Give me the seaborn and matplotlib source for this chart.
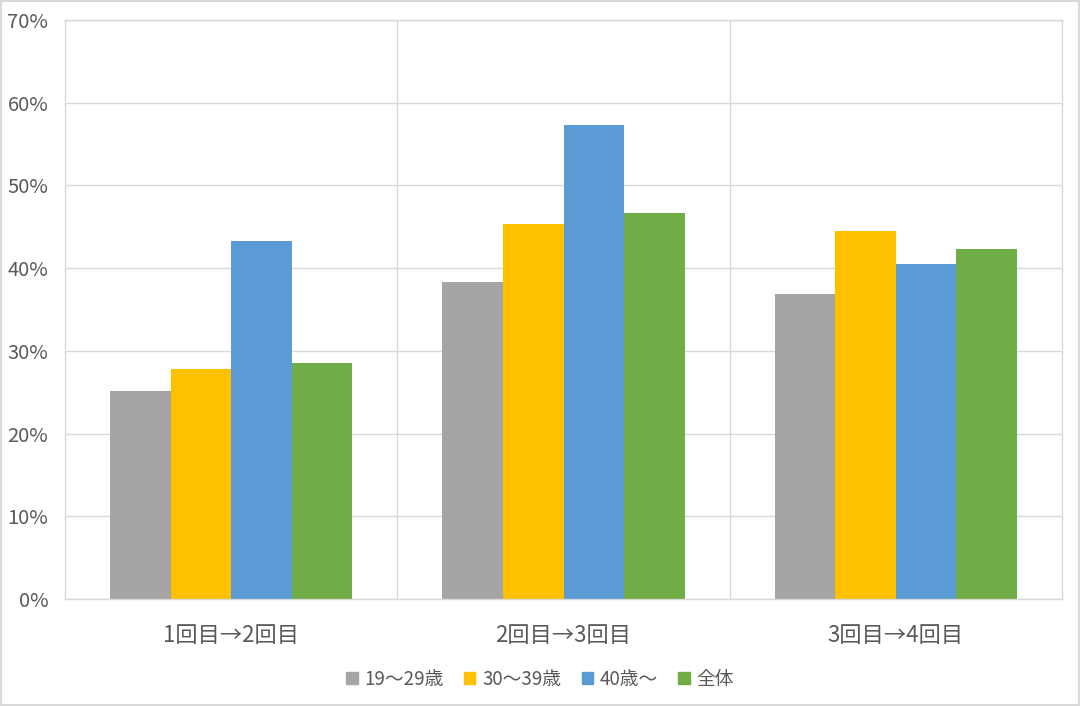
import seaborn as sns
import matplotlib.pyplot as plt
import matplotlib.patches as mpatches
from matplotlib.ticker import PercentFormatter
import pandas as pd

# データ
categories = ['1回目→2回目', '2回目→3回目', '3回目→4回目']
groups = ['19～29歳', '30～39歳', '40歳～', '全体']
v_19_29 = [25.2, 38.3, 36.9]
v_30_39 = [27.8, 45.3, 44.5]
v_40 = [43.3, 57.3, 40.5]
v_all = [28.5, 46.7, 42.3]
colores = ['#A5A5A5', '#FFC000', '#5B9BD5', '#70AD47']

filas = []
for g, vals in zip(groups, [v_19_29, v_30_39, v_40, v_all]):
    for c, v in zip(categories, vals):
        filas.append({'cat': c, 'grupo': g, 'valor': v})
df = pd.DataFrame(filas)

sns.set_style('white')
plt.rcParams['font.family'] = ['Noto Sans CJK JP', 'DejaVu Sans']

fig = plt.figure(figsize=(10.8, 7.06), dpi=100)
ax = fig.add_axes([65/1080, 1-599/706, (1062-65)/1080, (599-20)/706])

sns.barplot(data=df, x='cat', y='valor', hue='grupo', hue_order=groups,
            palette=colores, width=0.73, saturation=1, linewidth=0,
            ax=ax, legend=False)

ax.set_ylim(0, 70)
ax.set_xlim(-0.5, 2.5)
ax.set_yticks(range(0, 71, 10))
ax.yaxis.set_major_formatter(PercentFormatter(decimals=0))
ax.yaxis.grid(True, color='#D9D9D9', linewidth=1)
ax.set_axisbelow(True)
for xv in [0.5, 1.5]:
    ax.axvline(xv, color='#D9D9D9', linewidth=1, zorder=0)
for s in ax.spines.values():
    s.set_color('#D9D9D9')
    s.set_linewidth(1)
ax.set_xlabel('')
ax.set_ylabel('')
ax.tick_params(axis='y', labelsize=14.5, colors='#595959', length=0, pad=12)
ax.tick_params(axis='x', labelsize=16, colors='#595959', length=0, pad=18)

handles = [mpatches.Patch(color=c, label=g) for g, c in zip(groups, colores)]
fig.legend(handles=handles, loc='center', bbox_to_anchor=(0.5, 1-679/706), ncol=4,
           frameon=False, fontsize=13.5, handlelength=0.6, handleheight=0.6,
           handletextpad=0.35, columnspacing=1.1, labelcolor='#595959')

fig.patches.append(mpatches.Rectangle((0.001, 0.001), 0.998, 0.997, transform=fig.transFigure,
                                      fill=False, edgecolor='#D9D9D9', linewidth=1.5))

plt.savefig('out.png', dpi=100)
